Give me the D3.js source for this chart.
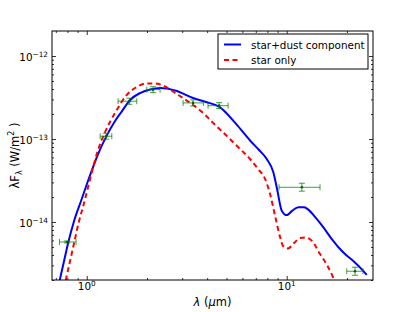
<!DOCTYPE html>
<html>
<head>
<meta charset="utf-8">
<script src="https://cdn.jsdelivr.net/npm/d3@7"></script>
<style>
  body { margin: 0; background: #fff; }
  svg { display: block; font-family: 'DejaVu Sans', sans-serif; }
</style>
</head>
<body>
<svg id="chart" width="415" height="312"></svg>
<script>
// star+dust model (wavelength in micron, lambda F_lambda in W/m^2)
const dustLambda = [0.719, 0.735, 0.770, 0.809, 0.864, 0.936, 1.039, 1.139, 1.256, 1.385,
  1.501, 1.646, 1.847, 2.073, 2.326, 2.764, 3.401, 3.950, 4.586, 5.578, 6.555, 7.271,
  7.943, 8.570, 8.945, 9.441, 10.0, 10.63, 11.43, 12.20, 12.82, 13.85, 15.19, 16.66,
  18.48, 19.80, 21.46, 24.07, 25.12];
const dustFlux = [1.56e-15, 2.06e-15, 3.39e-15, 5.74e-15, 1.03e-14, 1.79e-14, 3.68e-14,
  6.59e-14, 1.09e-13, 1.65e-13, 2.17e-13, 2.95e-13, 3.58e-13, 3.94e-13, 4.11e-13,
  3.84e-13, 3.12e-13, 2.79e-13, 2.45e-13, 1.52e-13, 9.59e-14, 7.36e-14, 5.74e-14,
  3.97e-14, 2.50e-14, 1.37e-14, 1.21e-14, 1.36e-14, 1.50e-14, 1.50e-14, 1.41e-14,
  1.15e-14, 8.71e-15, 6.41e-15, 4.73e-15, 4.00e-15, 3.42e-15, 2.59e-15, 2.30e-15];

// photosphere only
const starLambda = [0.770, 0.788, 0.825, 0.864, 0.910, 0.969, 1.039, 1.122, 1.234, 1.385,
  1.585, 1.744, 1.995, 2.195, 2.407, 2.818, 3.285, 3.815, 4.382, 5.012, 5.707, 6.555,
  7.187, 7.790, 8.252, 8.742, 9.259, 9.583, 10.15, 10.88, 11.66, 12.49, 13.38, 14.67,
  15.90, 17.04, 17.64];
const starFlux = [1.56e-15, 2.06e-15, 3.39e-15, 5.58e-15, 9.73e-15, 1.69e-14, 3.30e-14,
  6.59e-14, 1.21e-13, 2.06e-13, 3.39e-13, 4.11e-13, 4.67e-13, 4.67e-13, 4.41e-13,
  3.48e-13, 2.72e-13, 2.06e-13, 1.48e-13, 1.09e-13, 8.01e-14, 5.74e-14, 4.35e-14,
  3.30e-14, 2.17e-14, 1.19e-14, 6.59e-15, 5.14e-15, 4.80e-15, 5.58e-15, 6.41e-15,
  6.50e-15, 5.90e-15, 4.11e-15, 3.03e-15, 2.17e-15, 1.79e-15];

// photometry
const obsLambda = [0.797, 1.249, 1.633, 2.145, 3.40, 4.59, 11.9, 21.95];
const obsLambdaLo = [0.730, 1.166, 1.434, 1.995, 3.03, 4.04, 9.15, 19.95];
const obsLambdaHi = [0.884, 1.334, 1.778, 2.326, 3.83, 5.09, 14.67, 24.07];
const obsFlux = [5.74e-15, 1.08e-13, 2.85e-13, 3.93e-13, 2.72e-13, 2.52e-13, 2.62e-14, 2.55e-15];
const obsFluxLo = [5.58e-15, 0.994e-13, 2.62e-13, 3.62e-13, 2.50e-13, 2.32e-13, 2.35e-14, 2.28e-15];
const obsFluxHi = [5.90e-15, 1.17e-13, 3.10e-13, 4.27e-13, 2.96e-13, 2.74e-13, 2.93e-14, 2.85e-15];

const xMajor = [1, 10];
const xMajorLabels = ['0', '1'];
const xMinor = [0.7, 0.8, 0.9, 2, 3, 4, 5, 6, 7, 8, 9, 20];
const yMajor = [1e-14, 1e-13, 1e-12];
const yMajorLabels = ['\u221214', '\u221213', '\u221212'];
const yMinor = [2e-15, 3e-15, 4e-15, 5e-15, 6e-15, 7e-15, 8e-15, 9e-15,
  2e-14, 3e-14, 4e-14, 5e-14, 6e-14, 7e-14, 8e-14, 9e-14,
  2e-13, 3e-13, 4e-13, 5e-13, 6e-13, 7e-13, 8e-13, 9e-13];
const legendLabels = ['star+dust component', 'star only'];

const margin = { top: 31, right: 42, bottom: 32, left: 52 },
  width = 415,
  height = 312;

const svg = d3.select('#chart');

const x = d3.scaleLog()
  .domain([0.67, 27])
  .range([margin.left, width - margin.right]);

const y = d3.scaleLog()
  .domain([2e-15, 2e-12])
  .range([height - margin.bottom, margin.top]);

svg.append('clipPath')
  .attr('id', 'clip')
  .append('rect')
  .attr('x', margin.left)
  .attr('y', margin.top)
  .attr('width', width - margin.left - margin.right)
  .attr('height', height - margin.top - margin.bottom);

const plot = svg.append('g').attr('clip-path', 'url(#clip)');

const line = d3.line()
  .curve(d3.curveMonotoneX)
  .x(d => x(d[0]))
  .y(d => y(d[1]));

plot.append('path')
  .datum(dustLambda.map((l, i) => [l, dustFlux[i]]))
  .attr('fill', 'none')
  .attr('stroke', '#0000ff')
  .attr('stroke-width', 2)
  .attr('d', line);

plot.append('path')
  .datum(starLambda.map((l, i) => [l, starFlux[i]]))
  .attr('fill', 'none')
  .attr('stroke', '#ff0000')
  .attr('stroke-width', 2)
  .attr('stroke-dasharray', '5,3.5')
  .attr('d', line);

// error bars
const obs = obsLambda.map((l, i) => ({
  l, lo: obsLambdaLo[i], hi: obsLambdaHi[i],
  f: obsFlux[i], flo: obsFluxLo[i], fhi: obsFluxHi[i]
}));

const eb = plot.selectAll('.eb')
  .data(obs)
  .join('g')
  .attr('class', 'eb')
  .attr('stroke', '#008000')
  .attr('stroke-width', 1)
  .attr('stroke-opacity', 0.75);

eb.append('line')
  .attr('x1', d => x(d.lo)).attr('x2', d => x(d.hi))
  .attr('y1', d => y(d.f)).attr('y2', d => y(d.f));
eb.append('line')
  .attr('x1', d => x(d.l)).attr('x2', d => x(d.l))
  .attr('y1', d => y(d.flo)).attr('y2', d => y(d.fhi));
eb.selectAll('.capx')
  .data(d => [[d.lo, d.f], [d.hi, d.f]])
  .join('line')
  .attr('x1', d => x(d[0])).attr('x2', d => x(d[0]))
  .attr('y1', d => y(d[1]) - 3).attr('y2', d => y(d[1]) + 3);
eb.selectAll('.capy')
  .data(d => [[d.l, d.flo], [d.l, d.fhi]])
  .join('line')
  .attr('x1', d => x(d[0]) - 3).attr('x2', d => x(d[0]) + 3)
  .attr('y1', d => y(d[1])).attr('y2', d => y(d[1]));

plot.selectAll('.pt')
  .data(obs)
  .join('circle')
  .attr('class', 'pt')
  .attr('cx', d => x(d.l))
  .attr('cy', d => y(d.f))
  .attr('r', 1.3)
  .attr('fill', '#006400');

// ticks, pointing inward on all four sides
function ticks(axis, pos, values, size) {
  svg.append('g')
    .attr('transform', pos)
    .call(axis.tickValues(values).tickSize(-size).tickSizeOuter(0).tickFormat(''))
    .call(g => g.select('.domain').remove())
    .selectAll('line')
    .attr('stroke', '#000')
    .attr('stroke-width', 0.8);
}
const bottom = height - margin.bottom, right = width - margin.right;
ticks(d3.axisBottom(x), `translate(0,${bottom})`, xMajor, 4);
ticks(d3.axisBottom(x), `translate(0,${bottom})`, xMinor, 2);
ticks(d3.axisTop(x), `translate(0,${margin.top})`, xMajor, 4);
ticks(d3.axisTop(x), `translate(0,${margin.top})`, xMinor, 2);
ticks(d3.axisLeft(y), `translate(${margin.left},0)`, yMajor, 4);
ticks(d3.axisLeft(y), `translate(${margin.left},0)`, yMinor, 2);
ticks(d3.axisRight(y), `translate(${right},0)`, yMajor, 4);
ticks(d3.axisRight(y), `translate(${right},0)`, yMinor, 2);

svg.append('rect')
  .attr('x', margin.left)
  .attr('y', margin.top)
  .attr('width', right - margin.left)
  .attr('height', bottom - margin.top)
  .attr('fill', 'none')
  .attr('stroke', '#000')
  .attr('stroke-width', 1);

// tick labels
const xl = svg.selectAll('.xlab')
  .data(xMajor)
  .join('text')
  .attr('class', 'xlab')
  .attr('x', d => x(d))
  .attr('y', bottom + 10)
  .attr('text-anchor', 'middle')
  .attr('font-size', 10.4);
xl.append('tspan').text('10');
xl.append('tspan')
  .attr('dy', -4)
  .attr('font-size', 7.3)
  .text((d, i) => xMajorLabels[i]);

const yl = svg.selectAll('.ylab')
  .data(yMajor)
  .join('text')
  .attr('class', 'ylab')
  .attr('x', margin.left - 4)
  .attr('y', d => y(d) + 5)
  .attr('text-anchor', 'end')
  .attr('font-size', 10.4);
yl.append('tspan').text('10');
yl.append('tspan')
  .attr('dy', -4)
  .attr('font-size', 7.3)
  .text((d, i) => yMajorLabels[i]);

// axis labels
const xt = svg.append('text')
  .attr('x', (margin.left + right) / 2)
  .attr('y', 306)
  .attr('text-anchor', 'middle')
  .attr('font-size', 11.5);
xt.append('tspan').attr('font-style', 'italic').text('λ');
xt.append('tspan').text(' (');
xt.append('tspan').attr('font-style', 'italic').text('μ');
xt.append('tspan').text('m)');

const yt = svg.append('text')
  .attr('transform', `translate(19,${(margin.top + bottom) / 2}) rotate(-90)`)
  .attr('text-anchor', 'middle')
  .attr('font-size', 11.5);
yt.append('tspan').text('λF');
yt.append('tspan').attr('dy', 3).attr('font-size', 8).text('λ');
yt.append('tspan').attr('dy', -3).text(' (W/m');
yt.append('tspan').attr('dy', -5).attr('font-size', 8).text('2');
yt.append('tspan').attr('dy', 5).text(' )');

// legend
const legend = svg.append('g');
legend.append('rect')
  .attr('x', 218)
  .attr('y', 34)
  .attr('width', 150)
  .attr('height', 35)
  .attr('fill', '#fff')
  .attr('stroke', '#000')
  .attr('stroke-width', 1);

const items = legend.selectAll('.item')
  .data(legendLabels)
  .join('g')
  .attr('class', 'item')
  .attr('transform', (d, i) => `translate(224,${44.5 + i * 15.5})`);
items.append('line')
  .attr('x1', 0).attr('x2', 17)
  .attr('stroke', (d, i) => i === 0 ? '#0000ff' : '#ff0000')
  .attr('stroke-width', 2)
  .attr('stroke-dasharray', (d, i) => i === 0 ? null : '5,3.5');
items.append('text')
  .attr('x', 27)
  .attr('y', 4)
  .attr('font-size', 10.4)
  .text(d => d);
</script>
</body>
</html>
